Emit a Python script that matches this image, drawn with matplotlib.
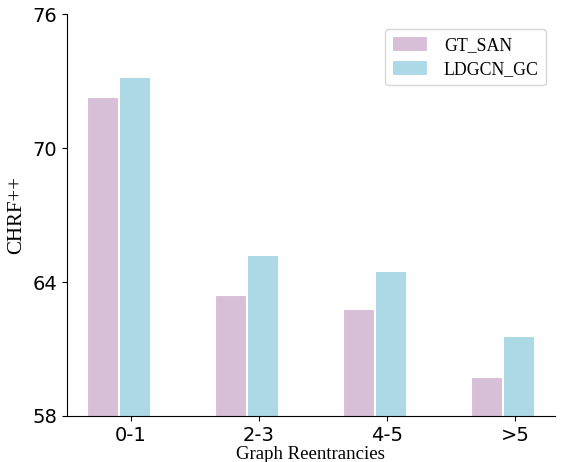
import numpy as np
import matplotlib
matplotlib.use("Agg")
import matplotlib.pyplot as plt

categories = ["0-1", "2-3", "4-5", ">5"]
gt_san = [72.3, 63.4, 62.8, 59.75]
ldgcn_gc = [73.2, 65.2, 64.5, 61.6]

x = np.arange(len(categories))
width = 0.25

fig = plt.figure(figsize=(5.61, 4.62), dpi=100)
ax = fig.add_axes([0.119, 0.0996, 0.870, 0.870])

ax.bar(x, gt_san, width, color="thistle", edgecolor="white", linewidth=1.5, label="GT_SAN")
ax.bar(x + width, ldgcn_gc, width, color="lightblue", edgecolor="white", linewidth=1.5, label="LDGCN_GC")

ax.set_ylim(58, 76)
ax.set_yticks([58, 64, 70, 76])
ax.set_xlim(-0.285, 3.527)
ax.set_xticks(x + 0.215)
ax.set_xticklabels(categories)
ax.tick_params(labelsize=14)

ax.set_xlabel("Graph Reentrancies", fontfamily="Liberation Serif", fontsize=13.5, labelpad=1)
ax.set_ylabel("CHRF++", fontfamily="Liberation Serif", fontsize=15)

ax.spines["top"].set_visible(False)
ax.spines["right"].set_visible(False)

ax.legend(loc="upper right", bbox_to_anchor=(1.0, 0.985),
          prop={"family": "Liberation Serif", "size": 12.8},
          borderpad=0.4, labelspacing=0.35, handleheight=1.0,
          handlelength=2.0, handletextpad=0.9)

fig.savefig("out.png", dpi=100)
